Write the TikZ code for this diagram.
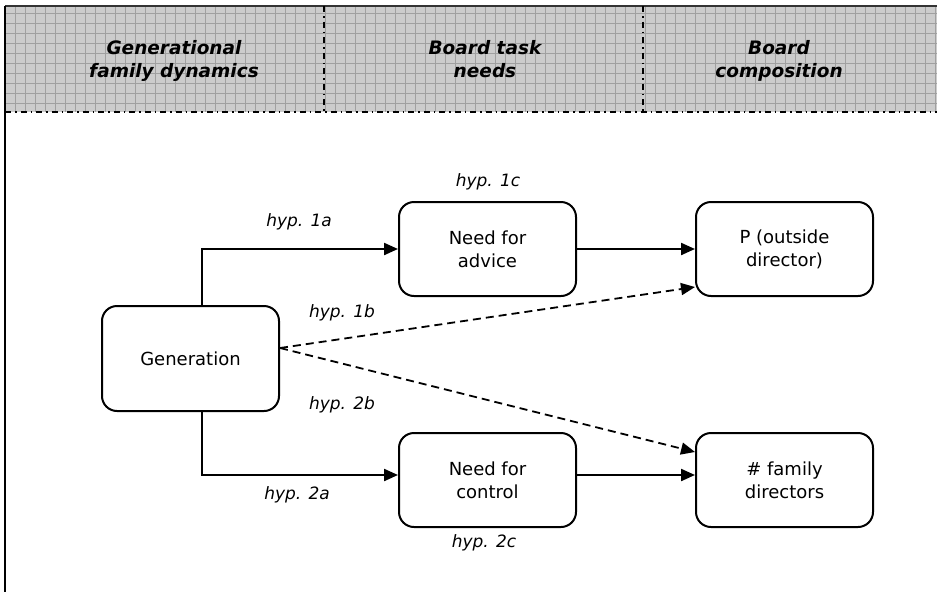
\documentclass[tikz,border=0pt]{standalone}
\usepackage{fontspec}
\setmainfont{DejaVu Sans}
\usetikzlibrary{arrows.meta}
\begin{document}
\begin{tikzpicture}[x=1pt,y=-1pt,
  box/.style={draw,line width=2pt,rounded corners=15pt,minimum width=177pt,inner sep=0pt,align=center,font=\fontsize{18}{23}\selectfont},
  hyp/.style={font=\fontsize{17}{20}\selectfont\itshape,inner sep=0pt},
  head/.style={font=\fontsize{18.5}{23}\selectfont\bfseries\itshape,align=center,inner sep=0pt,anchor=north},
  arr/.style={line width=2.2pt,-{Triangle[length=14pt,width=12pt]}},
  darr/.style={line width=1.8pt,dash pattern=on 8pt off 5pt,-{Triangle[length=14pt,width=12pt]}},
  sep/.style={line width=1.6pt,dash pattern=on 6pt off 4pt on 1.5pt off 4pt},
  band/.style={fill={rgb,255:red,204;green,204;blue,204}},
  gridline/.style={draw={rgb,255:red,160;green,160;blue,160},line width=0.7pt}
]
\useasboundingbox (0,0) rectangle (937,592);
\fill[white] (0,0) rectangle (937,592);
% header band
\fill[band] (5,6) rectangle (937,112);
\begin{scope}
\clip (5,6) rectangle (937,112);
\foreach \x in {15,25,...,935} \draw[gridline] (\x,6) -- (\x,112);
\foreach \y in {13,23,...,110} \draw[gridline] (5,\y) -- (937,\y);
\end{scope}
\draw[line width=1.6pt,black!80] (5,6) -- (937,6);
\draw[sep] (5,112) -- (937,112);
\draw[sep] (324,6) -- (324,112);
\draw[sep] (643,6) -- (643,112);
\draw[line width=2.2pt] (5,5.5) -- (5,592);
\node[head] (h1) at (174,40) {Generational\\family dynamics};
\node[head] (h2) at (485,40) {Board task\\needs};
\node[head] (h3) at (779,40) {Board\\composition};
% nodes
\node[box,minimum height=105pt] (gen) at (190.5,358.5) {Generation};
\node[box,minimum height=94pt] (adv) at (487.5,249) {Need for\\advice};
\node[box,minimum height=94pt] (ctl) at (487.5,480) {Need for\\control};
\node[box,minimum height=94pt] (pod) at (784.5,249) {P (outside\\director)};
\node[box,minimum height=94pt] (fam) at (784.5,480) {\# family\\directors};
% connectors
\draw[arr] ([xshift=11.5pt]gen.north) |- (adv.west);
\draw[arr] ([xshift=11.5pt]gen.south) |- ([yshift=5pt]ctl.west);
\draw[arr] (adv.east) -- (pod.west);
\draw[arr] ([yshift=5pt]ctl.east) -- ([yshift=5pt]fam.west);
\coordinate (gs) at ([yshift=10.5pt]gen.east);
\draw[darr] (gs) -- ([yshift=-38pt]pod.west);
\draw[darr] (gs) -- ([yshift=28pt]fam.west);
% labels
\node[hyp] (l1a) at (299,222) {hyp. 1a};
\node[hyp] (l1c) at (488,182) {hyp. 1c};
\node[hyp] (l1b) at (342,313) {hyp. 1b};
\node[hyp] (l2b) at (342,405) {hyp. 2b};
\node[hyp] (l2a) at (297,495) {hyp. 2a};
\node[hyp] (l2c) at (484,543) {hyp. 2c};
\end{tikzpicture}
\end{document}
